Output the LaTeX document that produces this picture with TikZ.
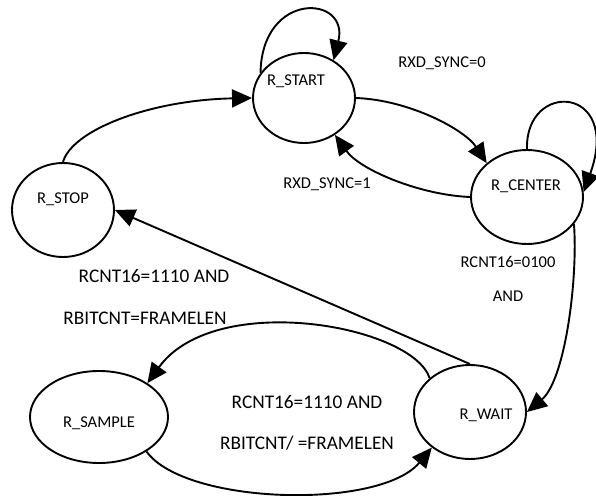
\documentclass[tikz,border=0pt]{standalone}
\usepackage{fontspec}
\setmainfont{Carlito}
\usetikzlibrary{shapes.geometric,arrows.meta}
\tikzset{
  state/.style={draw, ellipse, line width=1.9bp, inner sep=0pt},
  conn/.style={line width=1.9bp, -{Triangle[length=20bp,width=18bp]}},
  small/.style={anchor=base, inner sep=0pt, font=\fontsize{16.5bp}{20bp}\selectfont},
  big/.style={anchor=base, inner sep=0pt, font=\fontsize{19.3bp}{23bp}\selectfont},
}
\begin{document}
\begin{tikzpicture}[x=1bp,y=-1bp]
\path[use as bounding box] (0,0) rectangle (596,496);
% states
\node[state, minimum width=102bp, minimum height=90bp] (start) at (304,98) {};
\node[state, minimum width=102bp, minimum height=94bp] (stop) at (63,210) {};
\node[state, minimum width=112bp, minimum height=94bp] (center) at (527,197) {};
\node[state, minimum width=138bp, minimum height=92bp] (sample) at (99,417) {};
\node[state, minimum width=112bp, minimum height=94bp] (wait) at (470,412) {};
% state texts
\node[small] (tstart) at (296,85.3) {R\_START};
\node[small] (tstop) at (63,203.3) {R\_STOP};
\node[small] (tcenter) at (526,190.3) {R\_CENTER};
\node[small] (tsample) at (99,427.3) {R\_SAMPLE};
\node[small] (twait) at (486,419.3) {R\_WAIT};
% connectors
\draw[conn] (start.150) .. controls (262,-10) and (350,-5) .. (start.52);
\draw[conn] (stop.90) .. controls (72,130) and (150,100) .. (start.180);
\draw[conn] (start.0) .. controls (410,100) and (465,130) .. (center.140);
\draw[conn] (center.180) .. controls (420,195) and (360,170) .. (start.-50);
\draw[conn] (center.90) .. controls (525,80) and (622,85) .. (center.5);
\draw[conn] (center.-30) .. controls (578,280) and (565,380) .. (wait.0);
\draw[conn] (wait.north) -- (stop.east);
\draw[conn] (wait.140) .. controls (412,325) and (215,290) .. (sample.35);
\draw[conn] (sample.-36) .. controls (185,505) and (380,510) .. (wait.-137);
% labels
\node[small] (l1) at (442,67.3) {RXD\_SYNC=0};
\node[small] (l2) at (327,188.3) {RXD\_SYNC=1};
\node[small] (l3) at (508,267.3) {RCNT16=0100};
\node[small] (l4) at (508,301.3) {AND};
\node[big] (l5) at (154,282.2) {RCNT16=1110 AND};
\node[big] (l6) at (145,324.2) {RBITCNT=FRAMELEN};
\node[big] (l7) at (307,408.2) {RCNT16=1110 AND};
\node[big] (l8) at (307,449.2) {RBITCNT/ =FRAMELEN};
\end{tikzpicture}
\end{document}
